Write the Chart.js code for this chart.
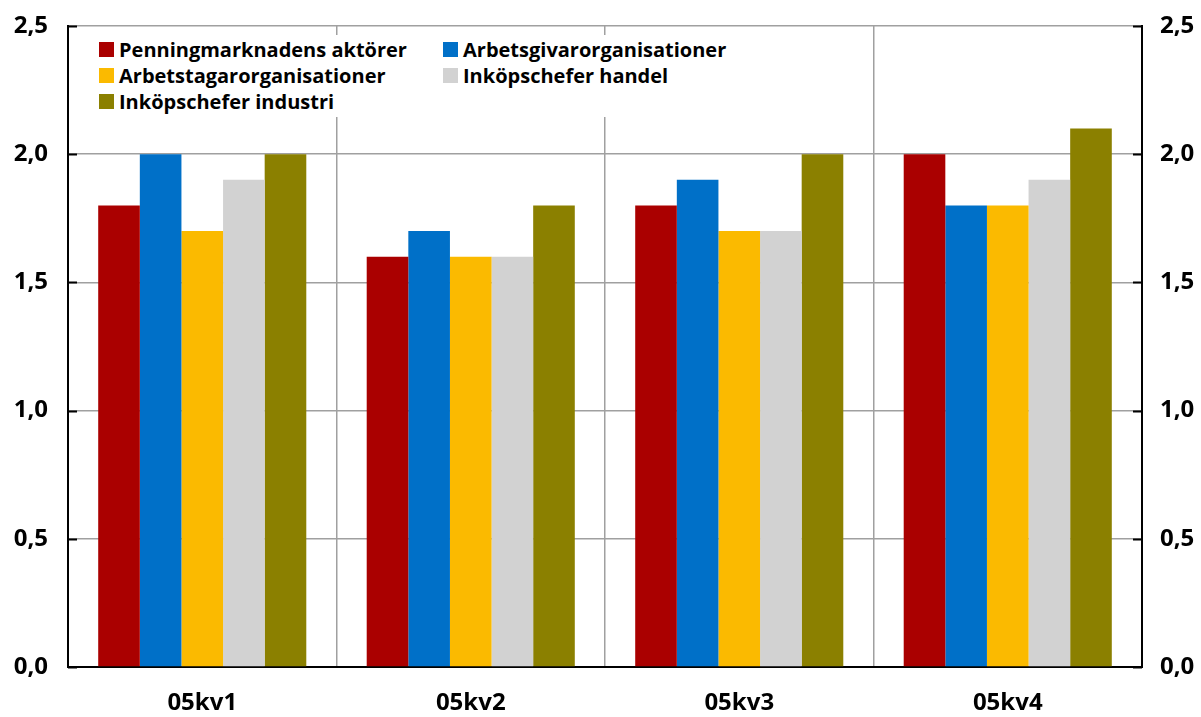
<!DOCTYPE html>
<html>
<head>
<meta charset="utf-8">
<script src="https://cdn.jsdelivr.net/npm/chart.js@4/dist/chart.umd.min.js"></script>
<style>
  html, body { margin: 0; padding: 0; background: #fff; }
  #wrap { position: relative; width: 1201px; height: 717px; }
  #legend {
    position: absolute; left: 88px; top: 35px; width: 650px; height: 82px;
    background: #fff; font-family: "Open Sans", sans-serif; font-weight: 700;
    font-size: 20px; color: #000;
  }
  .item { position: absolute; display: flex; align-items: center; white-space: nowrap; height: 26px; }
  .sw { width: 15px; height: 15px; margin-right: 5px; }
</style>
</head>
<body>
<div id="wrap">
  <canvas id="c" width="1201" height="717"></canvas>
  <div id="legend"></div>
</div>
<script>
// Quarterly expectations by respondent group
const categories = ["05kv1", "05kv2", "05kv3", "05kv4"];
const seriesNames = [
  "Penningmarknadens aktörer",
  "Arbetsgivarorganisationer",
  "Arbetstagarorganisationer",
  "Inköpschefer handel",
  "Inköpschefer industri"
];
const penningmarknad = [1.8, 1.6, 1.8, 2.0];
const arbetsgivare   = [2.0, 1.7, 1.9, 1.8];
const arbetstagare   = [1.7, 1.6, 1.7, 1.8];
const inkopHandel    = [1.9, 1.6, 1.7, 1.9];
const inkopIndustri  = [2.0, 1.8, 2.0, 2.1];
const yTicks = [0, 0.5, 1.0, 1.5, 2.0, 2.5];

const colors = ["#AA0000", "#0070C8", "#FBBA00", "#D2D2D2", "#8B8000"];
const values = [penningmarknad, arbetsgivare, arbetstagare, inkopHandel, inkopIndustri];

const fmt = v => v.toFixed(1).replace(".", ",");
const tickFont = { family: "'Open Sans', sans-serif", size: 24, weight: "bold" };

// Short black tick marks pointing into the plot on both value axes
const innerTicks = {
  id: "innerTicks",
  afterDatasetsDraw(chart) {
    const { ctx, chartArea } = chart;
    const y = chart.scales.y;
    ctx.save();
    ctx.strokeStyle = "#000";
    ctx.lineWidth = 2;
    y.ticks.forEach((t, i) => {
      const py = Math.round(y.getPixelForTick(i)) + 0.5;
      ctx.beginPath();
      ctx.moveTo(chartArea.left, py); ctx.lineTo(chartArea.left + 9, py);
      ctx.moveTo(chartArea.right, py); ctx.lineTo(chartArea.right - 9, py);
      ctx.stroke();
    });
    ctx.restore();
  }
};

// Value axes: fixed width, and no extra room reserved above/below for the end labels
const fitValueAxis = width => s => {
  s.width = width;
  s.paddingTop = 0;
  s.paddingBottom = 0;
};

const chart = new Chart(document.getElementById("c"), {
  type: "bar",
  data: {
    labels: categories,
    datasets: seriesNames.map((name, i) => ({
      label: name,
      data: values[i],
      backgroundColor: colors[i],
      borderWidth: 0,
      categoryPercentage: 0.775,
      barPercentage: 1.0,
      yAxisID: "y"
    }))
  },
  options: {
    responsive: false,
    animation: false,
    layout: { autoPadding: false, padding: { top: 26, left: 0, right: 0, bottom: 0 } },
    plugins: { legend: { display: false }, tooltip: { enabled: false } },
    scales: {
      x: {
        grid: { offset: true, color: "#A0A0A0", lineWidth: 1.5, drawTicks: false },
        border: { color: "#000", width: 2 },
        ticks: { font: tickFont, color: "#000", padding: 22 },
        afterFit(s) { s.height = 50; s.paddingLeft = 0; s.paddingRight = 0; }
      },
      y: {
        position: "left",
        min: 0, max: 2.5,
        afterBuildTicks(s) { s.ticks = yTicks.map(v => ({ value: v })); },
        grid: { color: "#A0A0A0", lineWidth: 1.5, drawTicks: false },
        border: { color: "#000", width: 2 },
        ticks: { font: tickFont, color: "#000", padding: 20, callback: v => fmt(v) },
        afterFit: fitValueAxis(68)
      },
      y2: {
        position: "right",
        min: 0, max: 2.5,
        afterBuildTicks(s) { s.ticks = yTicks.map(v => ({ value: v })); },
        grid: { display: false, drawTicks: false },
        border: { color: "#000", width: 2 },
        ticks: { font: tickFont, color: "#000", padding: 18, callback: v => fmt(v) },
        afterFit: fitValueAxis(59)
      }
    }
  },
  plugins: [innerTicks]
});

// Two-column legend placed inside the plot area
const legend = document.getElementById("legend");
const pos = [[11, 1], [355, 1], [11, 27], [355, 27], [11, 53]];
seriesNames.forEach((name, i) => {
  const it = document.createElement("div");
  it.className = "item";
  it.style.left = pos[i][0] + "px";
  it.style.top = pos[i][1] + "px";
  const sw = document.createElement("span");
  sw.className = "sw";
  sw.style.background = colors[i];
  const tx = document.createElement("span");
  tx.textContent = name;
  it.appendChild(sw); it.appendChild(tx);
  legend.appendChild(it);
});
</script>
</body>
</html>
